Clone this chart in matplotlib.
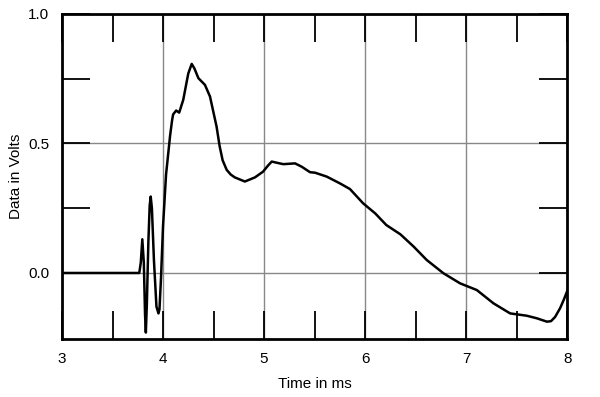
import numpy as np
import matplotlib.pyplot as plt
from matplotlib.ticker import MultipleLocator, FixedLocator

plt.rcParams['font.family'] = ['Liberation Sans', 'DejaVu Sans']

# waveform
time_ms = [3.0, 3.5, 3.765, 3.78, 3.795, 3.81, 3.822, 3.83, 3.84, 3.855, 3.868, 3.878,
           3.89, 3.91, 3.935, 3.955, 3.965, 3.98, 4.0, 4.03, 4.07, 4.09, 4.10, 4.13,
           4.16, 4.20, 4.25, 4.284, 4.31, 4.35, 4.415, 4.465, 4.53, 4.56, 4.59, 4.63, 4.67,
           4.71, 4.81, 4.91, 4.99, 5.04, 5.076, 5.12, 5.19, 5.307, 5.373, 5.455, 5.505,
           5.62, 5.75, 5.85, 5.98, 6.10, 6.21, 6.35, 6.48, 6.61, 6.775, 6.94, 7.106,
           7.27, 7.435, 7.60, 7.70, 7.80, 7.84, 7.88, 7.93, 7.97, 8.0]
volts = [0.0, 0.0, 0.0, 0.04, 0.13, 0.04, -0.16, -0.23, -0.12, 0.12, 0.26, 0.295,
         0.25, 0.05, -0.13, -0.156, -0.14, -0.02, 0.18, 0.38, 0.53, 0.59, 0.612, 0.627,
         0.619, 0.668, 0.77, 0.807, 0.79, 0.752, 0.726, 0.681, 0.565, 0.49, 0.435, 0.398, 0.38,
         0.369, 0.353, 0.369, 0.391, 0.415, 0.430, 0.426, 0.42, 0.423, 0.41, 0.389, 0.387,
         0.372, 0.346, 0.324, 0.269, 0.23, 0.185, 0.149, 0.102, 0.05, -0.001, -0.04, -0.066,
         -0.117, -0.156, -0.165, -0.175, -0.188, -0.186, -0.17, -0.136, -0.1, -0.07]

fig = plt.figure(figsize=(6, 3.97), dpi=100)
ax = fig.add_axes([0.1033, 0.146, 0.842, 0.819])

ax.plot(time_ms, volts, color='black', lw=1.8, solid_joinstyle='round')

ax.set_xlim(3, 8)
ax.set_ylim(-0.255, 1.0)
ax.xaxis.set_major_locator(MultipleLocator(1))
ax.xaxis.set_minor_locator(FixedLocator([3.5, 4.5, 5.5, 6.5, 7.5]))
ax.yaxis.set_major_locator(MultipleLocator(0.5))
ax.yaxis.set_minor_locator(FixedLocator([0.25, 0.75]))
ax.yaxis.set_major_formatter(plt.FormatStrFormatter('%.1f'))
ax.grid(True, which='major', color='#888888', lw=1)
ax.set_axisbelow(True)
ax.tick_params(which='both', direction='in', length=20, width=1.3,
               top=True, right=True, labelsize=11)
ax.tick_params(which='major', pad=9)
for s in ax.spines.values():
    s.set_linewidth(2)
ax.set_xlabel('Time in ms', fontsize=11, labelpad=8)
ax.set_ylabel('Data in Volts', fontsize=11, labelpad=4)

fig.savefig('out.png', dpi=100)
